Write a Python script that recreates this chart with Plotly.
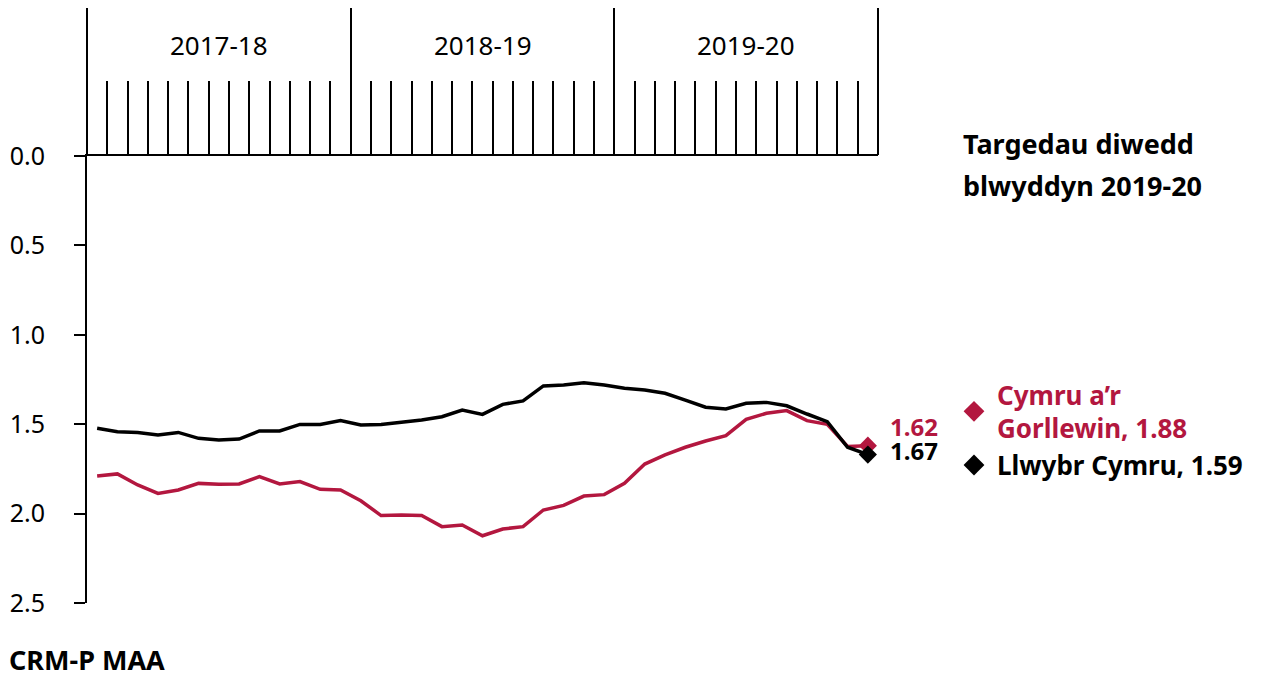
import plotly.graph_objects as go

years = ["2017-18", "2018-19", "2019-20"]
periods_per_year = 13
periods = [f"{y} P{p}" for y in years for p in range(1, periods_per_year + 1)]

cymru_gorllewin = [1.790, 1.778, 1.840, 1.887, 1.868, 1.831, 1.836, 1.834, 1.793, 1.834,
                   1.821, 1.864, 1.868, 1.928, 2.011, 2.008, 2.011, 2.073, 2.064, 2.124,
                   2.086, 2.073, 1.980, 1.954, 1.902, 1.894, 1.831, 1.723, 1.672, 1.629,
                   1.594, 1.564, 1.473, 1.439, 1.424, 1.480, 1.501, 1.625, 1.62]
llwybr_cymru = [1.523, 1.542, 1.546, 1.560, 1.546, 1.579, 1.588, 1.583, 1.538, 1.538,
                1.501, 1.501, 1.480, 1.504, 1.501, 1.490, 1.477, 1.458, 1.421, 1.445,
                1.389, 1.370, 1.286, 1.281, 1.268, 1.281, 1.299, 1.309, 1.327, 1.365,
                1.405, 1.415, 1.383, 1.378, 1.397, 1.443, 1.486, 1.629, 1.67]
target_names = ["Cymru a\u2019r<br>Gorllewin", "Llwybr Cymru"]
target_values = [1.88, 1.59]
y_ticks = [0.0, 0.5, 1.0, 1.5, 2.0, 2.5]

RED = "#B3173F"
BLACK = "#000000"
FONT = "Noto Sans"

# page offset of the figure (browser default body margin)
OX, OY = 8, 8
FW, FH = 1266 - OX, 673 - OY
L, T = 87 - OX, 156 - OY
W, H = 878 - 87, 603 - 156
R, B = FW - L - W, FH - T - H


def px_x(p):
    return (p - OX - L) / W


def px_y(p):
    return (T + H - (p - OY)) / H


n = len(periods)
xs = list(range(n))

fig = go.Figure()
fig.add_trace(go.Scatter(x=xs, y=cymru_gorllewin, mode="lines", line=dict(color=RED, width=3.5),
                         showlegend=False, hoverinfo="skip"))
fig.add_trace(go.Scatter(x=xs, y=llwybr_cymru, mode="lines", line=dict(color=BLACK, width=3.5),
                         showlegend=False, hoverinfo="skip"))
fig.add_trace(go.Scatter(x=[xs[-1]], y=[cymru_gorllewin[-1]], mode="markers",
                         marker=dict(symbol="diamond", size=14, color=RED), showlegend=False))
fig.add_trace(go.Scatter(x=[xs[-1]], y=[llwybr_cymru[-1]], mode="markers",
                         marker=dict(symbol="diamond", size=14, color=BLACK), showlegend=False))

# legend entries for the year-end targets
fig.add_trace(go.Scatter(x=[None], y=[None], mode="markers",
                         marker=dict(symbol="diamond", size=20, color=RED),
                         name=f"<span style='color:{RED}'><b>{target_names[0]}, {target_values[0]:.2f}</b></span>"))
fig.add_trace(go.Scatter(x=[None], y=[None], mode="markers",
                         marker=dict(symbol="diamond", size=20, color=BLACK),
                         name=f"<b>{target_names[1]}, {target_values[1]:.2f}</b>"))
# dummy trace to activate xaxis2
fig.add_trace(go.Scatter(x=[None], y=[None], xaxis="x2", showlegend=False))

# end labels
fig.add_annotation(x=xs[-1], y=cymru_gorllewin[-1], text=f"<b>{cymru_gorllewin[-1]:.2f}</b>",
                   showarrow=False, xanchor="left", yanchor="middle", xshift=20, yshift=19,
                   font=dict(color=RED, size=24, family=FONT))
fig.add_annotation(x=xs[-1], y=llwybr_cymru[-1], text=f"<b>{llwybr_cymru[-1]:.2f}</b>",
                   showarrow=False, xanchor="left", yanchor="middle", xshift=20, yshift=4,
                   font=dict(color=BLACK, size=24, family=FONT))

# year labels
for i, yname in enumerate(years):
    fig.add_annotation(x=i * periods_per_year + (periods_per_year - 1) / 2, y=px_y(25),
                       xref="x", yref="paper", text=yname, showarrow=False,
                       font=dict(size=26, family=FONT, color=BLACK))

fig.add_annotation(x=px_x(961), y=px_y(143), xref="paper", yref="paper",
                   text="<b>Targedau diwedd</b>", showarrow=False, xanchor="left", yanchor="middle",
                   font=dict(size=27, family=FONT, color=BLACK))
fig.add_annotation(x=px_x(961), y=px_y(185), xref="paper", yref="paper",
                   text="<b>blwyddyn 2019-20</b>", showarrow=False, xanchor="left", yanchor="middle",
                   font=dict(size=27, family=FONT, color=BLACK))
fig.add_annotation(x=px_x(7), y=px_y(659), xref="paper", yref="paper",
                   text="<b>CRM-P MAA</b>", showarrow=False, xanchor="left", yanchor="middle",
                   font=dict(size=27, family=FONT, color=BLACK))

fig.update_layout(
    width=FW, height=FH,
    margin=dict(l=L, r=R, t=T, b=B, autoexpand=False),
    paper_bgcolor="white", plot_bgcolor="white",
    font=dict(family=FONT, size=24, color=BLACK),
    showlegend=True,
    legend=dict(x=px_x(951), y=px_y(371), xanchor="left", yanchor="top",
                font=dict(size=26, family=FONT, color=BLACK), bgcolor="rgba(0,0,0,0)",
                itemwidth=36, tracegroupgap=16),
    xaxis=dict(range=[-0.5, n - 0.5], side="top", showgrid=False, zeroline=False,
               showline=True, linecolor=BLACK, linewidth=2, automargin=False,
               tickmode="array",
               tickvals=[k + 0.5 for k in range(n - 1) if (k + 1) % periods_per_year != 0],
               ticks="outside", ticklen=73, tickwidth=2, tickcolor=BLACK, showticklabels=False),
    xaxis2=dict(range=[-0.5, n - 0.5], overlaying="x", side="top", showgrid=False, zeroline=False,
                showline=False, automargin=False, tickmode="array",
                tickvals=[-0.5 + periods_per_year * k for k in range(len(years) + 1)],
                ticks="outside", ticklen=148, tickwidth=2, tickcolor=BLACK, showticklabels=False),
    yaxis=dict(range=[2.5, 0], showgrid=False, zeroline=False, showline=True, automargin=False,
               linecolor=BLACK, linewidth=2, tickmode="array", tickvals=y_ticks,
               tickformat=".1f", ticks="outside", ticklen=11, tickwidth=2, tickcolor=BLACK,
               ticklabelstandoff=24, tickfont=dict(size=25, family=FONT, color=BLACK)),
)

fig.write_html("out.html")
